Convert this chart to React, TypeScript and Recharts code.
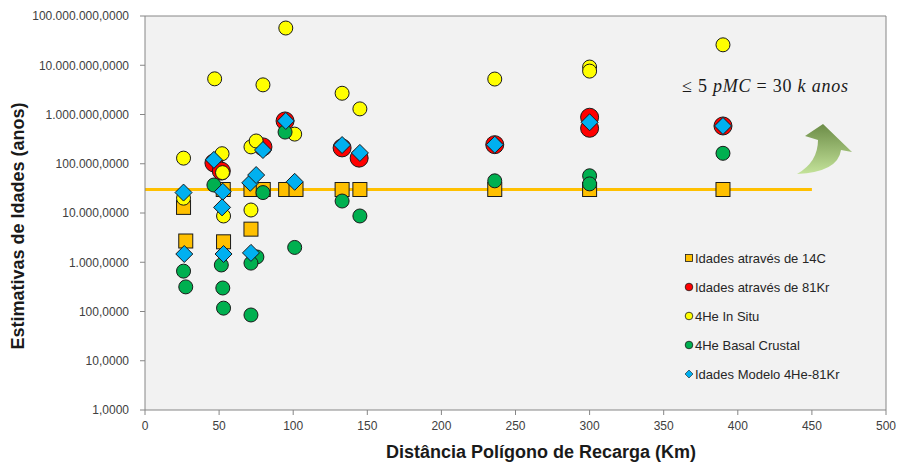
import { CartesianGrid, ReferenceLine, Scatter, ScatterChart, XAxis, YAxis } from "recharts";

// distância (km) x idade estimada (anos)
const c14Points = [
  { x: 26, y: 13000 }, { x: 27.5, y: 2700 }, { x: 53, y: 2600 }, { x: 71.5, y: 4700 },
  { x: 52.8, y: 30000 }, { x: 71.5, y: 30000 }, { x: 79.8, y: 30000 }, { x: 94.9, y: 30000 },
  { x: 101.9, y: 30000 }, { x: 133, y: 30000 }, { x: 145, y: 30000 }, { x: 236, y: 30000 },
  { x: 300, y: 30000 }, { x: 390, y: 30000 },
];

const kr81Points = [
  { x: 46.5, y: 104000 }, { x: 51.5, y: 71000 }, { x: 79.6, y: 220000 }, { x: 94.5, y: 740000 },
  { x: 133, y: 210000 }, { x: 144.5, y: 130000 }, { x: 236, y: 244000 }, { x: 300, y: 880000 },
  { x: 300, y: 525000 }, { x: 390, y: 585000 },
];

const inSituPoints = [
  { x: 26, y: 130000 }, { x: 26, y: 20000 }, { x: 47, y: 5300000 }, { x: 52, y: 160000 },
  { x: 52.3, y: 66000 }, { x: 53, y: 8700 }, { x: 71.5, y: 220000 }, { x: 75, y: 290000 },
  { x: 71.5, y: 11500 }, { x: 79.6, y: 4000000 }, { x: 95, y: 57000000 }, { x: 101, y: 400000 },
  { x: 133, y: 2700000 }, { x: 145, y: 1300000 }, { x: 236, y: 5250000 }, { x: 300, y: 9200000 },
  { x: 300, y: 7600000 }, { x: 390, y: 26000000 },
];

const basalPoints = [
  { x: 94.5, y: 440000 }, { x: 46.5, y: 37000 }, { x: 79.6, y: 26000 }, { x: 133, y: 17500 },
  { x: 145, y: 8700 }, { x: 101, y: 2000 }, { x: 75.5, y: 1280 }, { x: 71.5, y: 960 },
  { x: 51.5, y: 880 }, { x: 26, y: 660 }, { x: 27.5, y: 316 }, { x: 52.5, y: 300 },
  { x: 53, y: 117 }, { x: 71.5, y: 85 }, { x: 236, y: 45000 }, { x: 300, y: 57000 },
  { x: 300, y: 39000 }, { x: 390, y: 163000 },
];

const modelPoints = [
  { x: 26, y: 26000 }, { x: 26.5, y: 1470 }, { x: 46.5, y: 120000 }, { x: 52.5, y: 27000 },
  { x: 52, y: 13000 }, { x: 53, y: 1470 }, { x: 71, y: 41000 }, { x: 75, y: 59000 },
  { x: 71.5, y: 1550 }, { x: 79.6, y: 190000 }, { x: 95, y: 740000 }, { x: 101, y: 43000 },
  { x: 133, y: 240000 }, { x: 145, y: 166000 }, { x: 236, y: 244000 }, { x: 300, y: 695000 },
  { x: 390, y: 585000 },
];

const xTicks = [0, 50, 100, 150, 200, 250, 300, 350, 400, 450, 500];
const yTicks = [1, 10, 100, 1000, 10000, 100000, 1000000, 10000000, 100000000];
const limit14C = 30000;

const OUTLINE = "#1a1a1a";
const FONT = "'Liberation Sans', Arial, sans-serif";

type Kind = "square" | "circle" | "bigCircle" | "diamond";

const series: { name: string; data: { x: number; y: number }[]; color: string; kind: Kind }[] = [
  { name: "Idades através de 14C", data: c14Points, color: "#FFC000", kind: "square" },
  { name: "Idades através de 81Kr", data: kr81Points, color: "#FF0000", kind: "bigCircle" },
  { name: "4He In Situ", data: inSituPoints, color: "#FFFF00", kind: "circle" },
  { name: "4He Basal Crustal", data: basalPoints, color: "#00B050", kind: "circle" },
  { name: "Idades Modelo 4He-81Kr", data: modelPoints, color: "#00B0F0", kind: "diamond" },
];

function marker(kind: Kind, fill: string) {
  return (props: any) => {
    const { cx, cy } = props;
    if (cx == null || cy == null) return <g />;
    if (kind === "square")
      return <rect x={cx - 7} y={cy - 7} width={14} height={14} fill={fill} stroke={OUTLINE} strokeWidth={1} />;
    if (kind === "diamond") {
      const h = 8.5;
      return (
        <polygon
          points={`${cx},${cy - h} ${cx + h},${cy} ${cx},${cy + h} ${cx - h},${cy}`}
          fill={fill}
          stroke={OUTLINE}
          strokeWidth={1}
        />
      );
    }
    const r = kind === "bigCircle" ? 9 : 7;
    return <circle cx={cx} cy={cy} r={r} fill={fill} stroke={OUTLINE} strokeWidth={1} />;
  };
}

function legendIcon(kind: Kind, fill: string, cx: number, cy: number) {
  if (kind === "square")
    return <rect x={cx - 3.5} y={cy - 3.5} width={7} height={7} fill={fill} stroke={OUTLINE} strokeWidth={0.8} />;
  if (kind === "diamond")
    return (
      <polygon
        points={`${cx},${cy - 4} ${cx + 4},${cy} ${cx},${cy + 4} ${cx - 4},${cy}`}
        fill={fill}
        stroke={OUTLINE}
        strokeWidth={0.6}
      />
    );
  return <circle cx={cx} cy={cy} r={3.8} fill={fill} stroke={OUTLINE} strokeWidth={0.8} />;
}

// legenda desenhada à parte, para não roubar espaço da área de plotagem
function SeriesLegend({ x, y }: { x: number; y: number }) {
  return (
    <g transform={`translate(${x}, ${y})`}>
      {series.map((s, i) => {
        const cy = i * 29;
        return (
          <g key={s.name}>
            {legendIcon(s.kind, s.color, 0, cy)}
            <text x={6} y={cy} dominantBaseline="central" fontSize={13} fontFamily={FONT} fill="#262626">
              {s.name}
            </text>
          </g>
        );
      })}
    </g>
  );
}

const formatAge = (v: number) =>
  Math.round(v).toString().replace(/\B(?=(\d{3})+(?!\d))/g, ".") + ",0000";

export default function App() {
  return (
    <div style={{ position: "absolute", left: 0, top: 0, width: 899, height: 463, background: "#fff" }}>
      <ScatterChart width={899} height={463} margin={{ top: 16, right: 13, bottom: 0, left: 0 }}>
        <CartesianGrid horizontal={false} vertical={false} fill="#F2F2F2" />
        <XAxis
          type="number"
          dataKey="x"
          domain={[0, 500]}
          ticks={xTicks}
          height={53}
          tickSize={5}
          tickMargin={6}
          axisLine={{ stroke: "#868686" }}
          tickLine={{ stroke: "#868686" }}
          tick={{ fill: "#404040", fontSize: 12, fontFamily: FONT }}
        />
        <YAxis
          type="number"
          dataKey="y"
          scale="log"
          domain={[1, 100000000]}
          ticks={yTicks}
          width={145}
          tickSize={5}
          tickMargin={11}
          tickFormatter={formatAge}
          axisLine={{ stroke: "#868686" }}
          tickLine={{ stroke: "#868686" }}
          tick={{ fill: "#404040", fontSize: 12, fontFamily: FONT }}
        />
        <ReferenceLine y={100000000} stroke="#868686" />
        <ReferenceLine x={500} stroke="#868686" />
        {series.map((s) => (
          <Scatter
            key={s.name}
            name={s.name}
            data={s.data}
            fill={s.color}
            shape={marker(s.kind, s.color)}
            isAnimationActive={false}
          />
        ))}
        <ReferenceLine
          segment={[
            { x: 0, y: limit14C },
            { x: 450, y: limit14C },
          ]}
          stroke="#FFC000"
          strokeWidth={3}
        />
      </ScatterChart>

      <svg
        width={899}
        height={463}
        style={{ position: "absolute", left: 0, top: 0, pointerEvents: "none" }}
      >
        <defs>
          <linearGradient id="arrowFill" x1="0" y1="0" x2="0" y2="1">
            <stop offset="0%" stopColor="#6C8C47" />
            <stop offset="100%" stopColor="#C4E39A" />
          </linearGradient>
        </defs>
        <path
          d="M 823 124 L 852 152 L 841 150 Q 838 172 797 174 Q 818 162 818 140 L 805 136 Z"
          fill="url(#arrowFill)"
        />
        <text
          x={682}
          y={92}
          fontSize={18}
          fontFamily="'Liberation Serif', 'DejaVu Serif', serif"
          fill="#1a1a1a"
          textLength={166}
          lengthAdjust="spacing"
        >
          <tspan>≤ 5 </tspan>
          <tspan fontStyle="italic">pMC</tspan>
          <tspan> = 30 </tspan>
          <tspan fontStyle="italic">k anos</tspan>
        </text>
        <SeriesLegend x={689} y={258} />
        <text
          x={541}
          y={458}
          textAnchor="middle"
          fontSize={18}
          fontWeight="bold"
          fontFamily={FONT}
          fill="#1a1a1a"
        >
          Distância Polígono de Recarga (Km)
        </text>
        <text
          transform="translate(18, 226) rotate(-90)"
          textAnchor="middle"
          dominantBaseline="central"
          fontSize={18}
          fontWeight="bold"
          fontFamily={FONT}
          fill="#1a1a1a"
        >
          Estimativas de Idades (anos)
        </text>
      </svg>
    </div>
  );
}
